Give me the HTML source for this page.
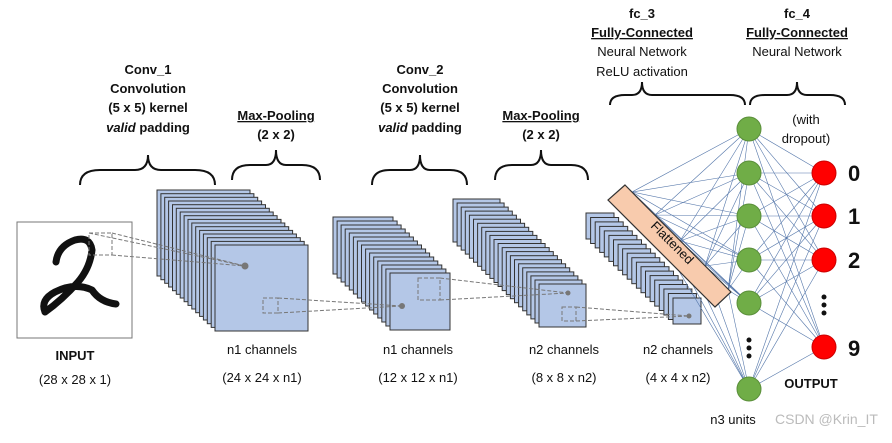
<!DOCTYPE html>
<html><head><meta charset="utf-8"><style>
html,body{margin:0;padding:0;background:#fff}
svg text{font-family:"Liberation Sans",sans-serif;fill:#111}
</style></head><body>
<svg width="892" height="438" viewBox="0 0 892 438" xmlns="http://www.w3.org/2000/svg">
<g font-size="13" text-anchor="middle">
<g font-weight="bold">
<text x="148" y="74">Conv_1</text><text x="148" y="93">Convolution</text><text x="148" y="112">(5 x 5) kernel</text>
<text x="276" y="120" text-decoration="underline">Max-Pooling</text><text x="276" y="139">(2 x 2)</text>
<text x="420" y="74">Conv_2</text><text x="420" y="93">Convolution</text><text x="420" y="112">(5 x 5) kernel</text>
<text x="541" y="120" text-decoration="underline">Max-Pooling</text><text x="541" y="139">(2 x 2)</text>
<text x="642" y="18">fc_3</text><text x="642" y="37" text-decoration="underline">Fully-Connected</text>
<text x="797" y="18">fc_4</text><text x="797" y="37" text-decoration="underline">Fully-Connected</text>
<text x="75" y="360">INPUT</text><text x="811" y="388">OUTPUT</text>
</g>
<text x="148" y="132"><tspan font-weight="bold" font-style="italic">valid</tspan><tspan font-weight="bold"> padding</tspan></text>
<text x="420" y="132"><tspan font-weight="bold" font-style="italic">valid</tspan><tspan font-weight="bold"> padding</tspan></text>
<text x="642" y="56">Neural Network</text>
<text x="642" y="76">ReLU activation</text>
<text x="797" y="56">Neural Network</text>
<text x="806" y="124">(with</text><text x="806" y="143">dropout)</text>
<text x="75" y="384">(28 x 28 x 1)</text>
<text x="262" y="354">n1 channels</text><text x="262" y="382">(24 x 24 x n1)</text>
<text x="418" y="354">n1 channels</text><text x="418" y="382">(12 x 12 x n1)</text>
<text x="564" y="354">n2 channels</text><text x="564" y="382">(8 x 8 x n2)</text>
<text x="678" y="354">n2 channels</text><text x="678" y="382">(4 x 4 x n2)</text>
<text x="733" y="424">n3 units</text>
</g>
<text x="775" y="424" font-size="14" style="fill:#bbb">CSDN @Krin_IT</text>
<g font-size="22" font-weight="bold"><text x="848" y="181">0</text><text x="848" y="224">1</text><text x="848" y="268">2</text><text x="848" y="356">9</text></g>
<g fill="none" stroke="#111" stroke-width="2">
<path d="M80 185 Q80 170 100 170 L135 170 Q148 170 148 155 Q148 170 161 170 L195 170 Q215 170 215 185"/>
<path d="M232 180 Q232 165 250 165 L266 165 Q276 165 276 150 Q276 165 286 165 L302 165 Q320 165 320 180"/>
<path d="M372 185 Q372 170 390 170 L410 170 Q420 170 420 155 Q420 170 430 170 L450 170 Q467 170 467 185"/>
<path d="M495 180 Q495 165 512 165 L531 165 Q541 165 541 150 Q541 165 551 165 L571 165 Q588 165 588 180"/>
<path d="M610 105 Q610 95 625 95 L632 95 Q642 95 642 82 Q642 95 652 95 L730 95 Q745 95 745 105"/>
<path d="M750 105 Q750 95 765 95 L787 95 Q797 95 797 82 Q797 95 807 95 L830 95 Q845 95 845 105"/>
</g>
<rect x="17" y="222" width="115" height="116" fill="#fff" stroke="#777"/>
<path d="M56 262 Q58 246 75 240 Q90 236 92 250 Q90 268 78 282 Q62 300 45 312 Q40 300 55 292 Q75 282 92 290 Q100 302 116 304" fill="none" stroke="#111" stroke-width="7" stroke-linejoin="round" stroke-linecap="round"/>
<g fill="#b4c7e7" stroke="#333" stroke-width="1">
<rect x="157" y="190" width="93" height="86"/><rect x="160.9" y="193.7" width="93" height="86"/><rect x="164.7" y="197.3" width="93" height="86"/><rect x="168.6" y="201" width="93" height="86"/><rect x="172.5" y="204.7" width="93" height="86"/><rect x="176.3" y="208.3" width="93" height="86"/><rect x="180.2" y="212" width="93" height="86"/><rect x="184.1" y="215.7" width="93" height="86"/><rect x="188" y="219.4" width="93" height="86"/><rect x="191.8" y="223" width="93" height="86"/><rect x="195.7" y="226.7" width="93" height="86"/><rect x="199.6" y="230.4" width="93" height="86"/><rect x="203.4" y="234" width="93" height="86"/><rect x="207.3" y="237.7" width="93" height="86"/><rect x="211.2" y="241.4" width="93" height="86"/><rect x="215" y="245" width="93" height="86"/>
<rect x="333" y="217" width="60" height="57"/><rect x="337.1" y="221" width="60" height="57"/><rect x="341.1" y="225" width="60" height="57"/><rect x="345.2" y="229" width="60" height="57"/><rect x="349.3" y="233" width="60" height="57"/><rect x="353.4" y="237" width="60" height="57"/><rect x="357.4" y="241" width="60" height="57"/><rect x="361.5" y="245" width="60" height="57"/><rect x="365.6" y="249" width="60" height="57"/><rect x="369.6" y="253" width="60" height="57"/><rect x="373.7" y="257" width="60" height="57"/><rect x="377.8" y="261" width="60" height="57"/><rect x="381.8" y="265" width="60" height="57"/><rect x="385.9" y="269" width="60" height="57"/><rect x="390" y="273" width="60" height="57"/>
<rect x="453" y="199" width="47" height="43"/><rect x="457.1" y="203" width="47" height="43"/><rect x="461.2" y="207.1" width="47" height="43"/><rect x="465.3" y="211.1" width="47" height="43"/><rect x="469.4" y="215.2" width="47" height="43"/><rect x="473.5" y="219.2" width="47" height="43"/><rect x="477.6" y="223.3" width="47" height="43"/><rect x="481.7" y="227.3" width="47" height="43"/><rect x="485.8" y="231.4" width="47" height="43"/><rect x="489.9" y="235.4" width="47" height="43"/><rect x="494" y="239.5" width="47" height="43"/><rect x="498.1" y="243.5" width="47" height="43"/><rect x="502.2" y="247.6" width="47" height="43"/><rect x="506.3" y="251.6" width="47" height="43"/><rect x="510.4" y="255.7" width="47" height="43"/><rect x="514.5" y="259.7" width="47" height="43"/><rect x="518.6" y="263.8" width="47" height="43"/><rect x="522.7" y="267.8" width="47" height="43"/><rect x="526.8" y="271.9" width="47" height="43"/><rect x="530.9" y="275.9" width="47" height="43"/><rect x="535" y="280" width="47" height="43"/><rect x="539" y="284" width="47" height="43"/>
<rect x="586" y="213" width="28" height="26"/><rect x="590.6" y="217.5" width="28" height="26"/><rect x="595.2" y="221.9" width="28" height="26"/><rect x="599.7" y="226.4" width="28" height="26"/><rect x="604.3" y="230.9" width="28" height="26"/><rect x="608.9" y="235.4" width="28" height="26"/><rect x="613.5" y="239.8" width="28" height="26"/><rect x="618.1" y="244.3" width="28" height="26"/><rect x="622.6" y="248.8" width="28" height="26"/><rect x="627.2" y="253.2" width="28" height="26"/><rect x="631.8" y="257.7" width="28" height="26"/><rect x="636.4" y="262.2" width="28" height="26"/><rect x="641" y="266.7" width="28" height="26"/><rect x="645.5" y="271.1" width="28" height="26"/><rect x="650.1" y="275.6" width="28" height="26"/><rect x="654.7" y="280.1" width="28" height="26"/><rect x="659.3" y="284.5" width="28" height="26"/><rect x="663.9" y="289" width="28" height="26"/><rect x="668.4" y="293.5" width="28" height="26"/><rect x="673" y="298" width="28" height="26"/>
</g>
<g fill="none" stroke="#777" stroke-dasharray="4,2" stroke-width="1">
<rect x="89" y="233" width="23" height="22"/><path d="M89 233 L245 266 M112 255 L245 266 M112 233 L245 266"/>
<rect x="263" y="298" width="15" height="15"/><path d="M278 298 L402 306 M278 313 L402 306"/>
<rect x="418" y="278" width="22" height="22"/><path d="M440 278 L568 293 M440 300 L568 293"/>
<rect x="562" y="307" width="14" height="14"/><path d="M576 307 L689 316 M576 321 L689 316"/>
</g>
<g fill="#777"><circle cx="245" cy="266" r="3.5"/><circle cx="402" cy="306" r="3"/><circle cx="568" cy="293" r="2.5"/><circle cx="689" cy="316" r="2.5"/></g>
<g stroke="#5577aa" stroke-width="0.6" fill="none">
<path d="M632 192 L749 129 M632 192 L749 173 M632 192 L749 216 M632 192 L749 260 M632 192 L749 303 M632 192 L749 389
M655 215 L749 129 M655 215 L749 173 M655 215 L749 216 M655 215 L749 260 M655 215 L749 303 M655 215 L749 389
M680 241 L749 129 M680 241 L749 173 M680 241 L749 216 M680 241 L749 260 M680 241 L749 303 M680 241 L749 389
M705 266 L749 129 M705 266 L749 173 M705 266 L749 216 M705 266 L749 260 M705 266 L749 303 M705 266 L749 389
M728 290 L749 129 M728 290 L749 173 M728 290 L749 216 M728 290 L749 260 M728 290 L749 303 M728 290 L749 389
M749 129 L824 173 M749 129 L824 216 M749 129 L824 260 M749 129 L824 347
M749 173 L824 173 M749 173 L824 216 M749 173 L824 260 M749 173 L824 347
M749 216 L824 173 M749 216 L824 216 M749 216 L824 260 M749 216 L824 347
M749 260 L824 173 M749 260 L824 216 M749 260 L824 260 M749 260 L824 347
M749 303 L824 173 M749 303 L824 216 M749 303 L824 260 M749 303 L824 347
M749 389 L824 173 M749 389 L824 216 M749 389 L824 260 M749 389 L824 347"/>
</g>
<polygon points="625,185 731,292 715,307 608,200" fill="#f8cbad" stroke="#333" stroke-width="1.2"/>
<text x="0" y="0" font-size="13" text-anchor="middle" transform="translate(672,243) rotate(45)" dy="4">Flattened</text>
<g fill="#70ad47" stroke="#5a8f3a"><circle cx="749" cy="129" r="12"/><circle cx="749" cy="173" r="12"/><circle cx="749" cy="216" r="12"/><circle cx="749" cy="260" r="12"/><circle cx="749" cy="303" r="12"/><circle cx="749" cy="389" r="12"/></g>
<g fill="#ff0000" stroke="#c00"><circle cx="824" cy="173" r="12"/><circle cx="824" cy="216" r="12"/><circle cx="824" cy="260" r="12"/><circle cx="824" cy="347" r="12"/></g>
<g fill="#111"><circle cx="749" cy="340" r="2.5"/><circle cx="749" cy="348" r="2.5"/><circle cx="749" cy="356" r="2.5"/><circle cx="824" cy="297" r="2.5"/><circle cx="824" cy="305" r="2.5"/><circle cx="824" cy="313" r="2.5"/></g>
</svg>
</body></html>
